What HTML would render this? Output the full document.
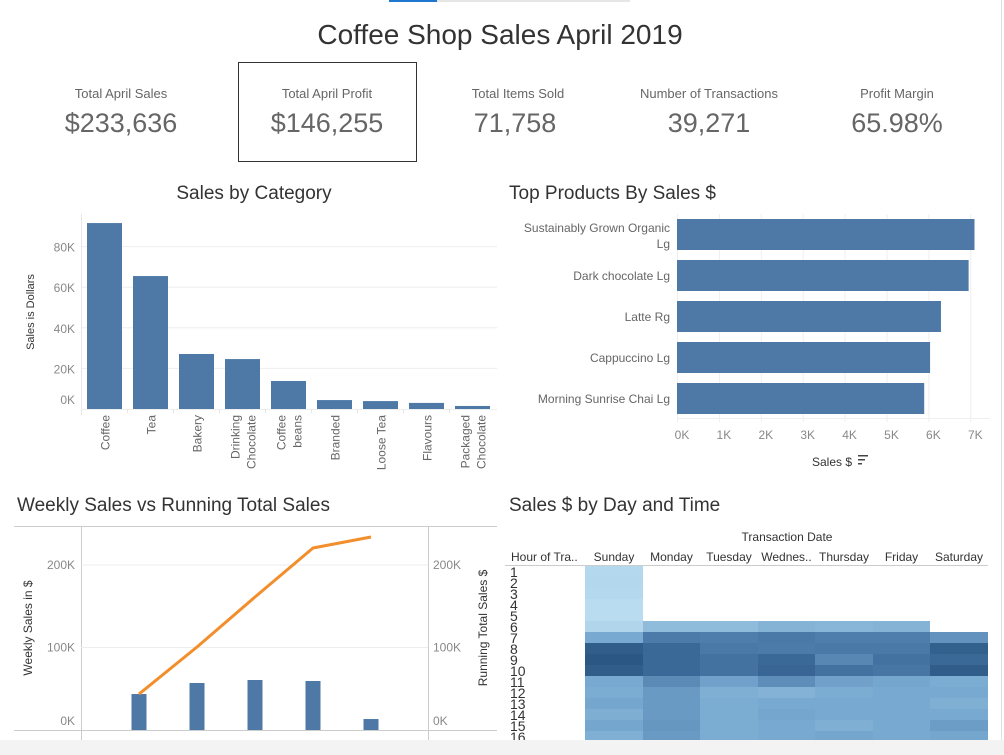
<!DOCTYPE html>
<html><head><meta charset="utf-8">
<style>
html,body{margin:0;padding:0;background:#fff;width:1004px;height:755px;overflow:hidden;font-family:"Liberation Sans",sans-serif;}
svg text{font-family:"Liberation Sans",sans-serif;}
</style></head>
<body>
<svg id="dash" width="1004" height="755" viewBox="0 0 1004 755" xmlns="http://www.w3.org/2000/svg">
  <rect x="0" y="0" width="1004" height="755" fill="#fff"/>
  <rect x="437" y="0" width="193" height="2" fill="#e6e6e6"/>
  <rect x="389" y="0" width="48" height="2" fill="#1f77d0"/>
  <line x1="1001.5" y1="0" x2="1001.5" y2="740" stroke="#e0e0e0"/>

  <text x="500" y="44" text-anchor="middle" font-size="28" fill="#333">Coffee Shop Sales April 2019</text>

  <g>
    <rect x="238.5" y="62.5" width="178" height="99" fill="none" stroke="#333"/>
    <g><text x="121" y="98" text-anchor="middle" font-size="13" fill="#666">Total April Sales</text><text x="121" y="132" text-anchor="middle" font-size="27" fill="#666">$233,636</text></g>
    <g><text x="327" y="98" text-anchor="middle" font-size="13" fill="#666">Total April Profit</text><text x="327" y="132" text-anchor="middle" font-size="27" fill="#666">$146,255</text></g>
    <g><text x="518" y="98" text-anchor="middle" font-size="13" fill="#666">Total Items Sold</text><text x="515" y="132" text-anchor="middle" font-size="27" fill="#666">71,758</text></g>
    <g><text x="709" y="98" text-anchor="middle" font-size="13" fill="#666">Number of Transactions</text><text x="709" y="132" text-anchor="middle" font-size="27" fill="#666">39,271</text></g>
    <g><text x="897" y="98" text-anchor="middle" font-size="13" fill="#666">Profit Margin</text><text x="897" y="132" text-anchor="middle" font-size="27" fill="#666">65.98%</text></g>
  </g>

  <text x="254" y="199" text-anchor="middle" font-size="19" fill="#333">Sales by Category</text>
  <g id="cat"></g>

  <text x="509" y="199" font-size="19" fill="#333">Top Products By Sales $</text>
  <g id="prod"></g>

  <text x="17" y="511" font-size="19" fill="#333">Weekly Sales vs Running Total Sales</text>
  <g id="week"></g>

  <text x="509" y="511" font-size="19" fill="#333">Sales $ by Day and Time</text>
  <g id="heat"></g>

  <rect x="0" y="740" width="1004" height="15" fill="#f3f3f3"/>
</svg>
<script>
const NS = "http://www.w3.org/2000/svg";
function mk(parent, tag, attrs, text) {
  const e = document.createElementNS(NS, tag);
  for (const k in attrs) e.setAttribute(k, attrs[k]);
  if (text !== undefined) e.textContent = text;
  parent.appendChild(e);
  return e;
}

// ---------- Sales by Category ----------
const catNames = [["Coffee"],["Tea"],["Bakery"],["Drinking","Chocolate"],["Coffee","beans"],["Branded"],["Loose Tea"],["Flavours"],["Packaged","Chocolate"]];
const catSales = [91600, 65500, 27100, 24600, 13800, 4400, 3900, 3000, 1500];
const catTicks = [0, 20000, 40000, 60000, 80000];
const catTickLabels = ["0K","20K","40K","60K","80K"];

// ---------- Top products ----------
const prodNames = [["Sustainably Grown Organic","Lg"],["Dark chocolate Lg"],["Latte Rg"],["Cappuccino Lg"],["Morning Sunrise Chai Lg"]];
const prodSales = [7100, 6960, 6300, 6040, 5900];
const prodTicks = [0,1000,2000,3000,4000,5000,6000,7000];
const prodTickLabels = ["0K","1K","2K","3K","4K","5K","6K","7K"];

// ---------- Weekly ----------
const weeks = ["W1","W2","W3","W4","W5"];
const weeklySales = [43600, 57000, 60600, 59400, 13300];
const runningTotal = [43600, 100600, 161200, 220600, 233900];
const weekTicks = [0, 100000, 200000];
const weekTickLabels = ["0K","100K","200K"];

// ---------- Heatmap ----------
const days = ["Sunday","Monday","Tuesday","Wednes..","Thursday","Friday","Saturday"];
const hours = ["1","2","3","4","5","6","7","8","9","10","11","12","13","14","15","16"];
const heatSun = [3,4,3,0,0,5,40,95,100,95,40,38,42,36,42,35];
const heatMon = [null,null,null,null,null,25,70,85,85,85,60,50,50,50,52,50];
const heatTue = [null,null,null,null,null,25,68,72,78,78,45,35,38,38,38,38];
const heatWed = [null,null,null,null,null,32,72,70,85,88,58,33,40,42,40,40];
const heatThu = [null,null,null,null,null,30,68,72,62,78,45,38,40,40,35,42];
const heatFri = [null,null,null,null,null,32,68,72,78,74,42,40,40,40,40,40];
const heatSat = [null,null,null,null,null,null,55,92,85,95,38,40,35,40,48,42];
const heatCols = [heatSun, heatMon, heatTue, heatWed, heatThu, heatFri, heatSat];

const BLUE = "#4e79a7";

// Category chart
(function(){
  const g = document.getElementById("cat");
  const x0 = 81, band = 46, bw = 35, base = 409;
  const y = v => base - v * 40.6 / 20000;
  catTicks.forEach((t,i) => {
    if (t > 0) {
      const l = mk(g,"line",{x1:x0,x2:497,y1:y(t),y2:y(t),stroke:"#eeeeee"});
      
      
    }
    const ty = t === 0 ? 404 : y(t)+5;
    const tx = mk(g,"text",{x:75,y:ty,"text-anchor":"end","font-size":12,fill:"#888"},catTickLabels[i]);
    
    
  });
  mk(g,"line",{x1:x0+0.5,x2:x0+0.5,y1:214,y2:415,stroke:"#e6e6e6"});
  mk(g,"line",{x1:x0,x2:497,y1:base+0.5,y2:base+0.5,stroke:"#eeeeee"});
  const yt = mk(g,"text",{x:34,y:312,"text-anchor":"middle","font-size":11,fill:"#333",transform:"rotate(-90 34 312)"},"Sales is Dollars");
  
  
  catSales.forEach((v,i) => {
    const bx = x0 + 6 + i*band;
    const r = mk(g,"rect",{x:bx,y:y(v),width:bw,height:base-y(v),fill:BLUE});
    
    
    if (i>0) mk(g,"line",{x1:x0+i*band+0.5,x2:x0+i*band+0.5,y1:base,y2:413,stroke:"#e6e6e6"});
    const cx = bx + bw/2;
    const lines = catNames[i];
    lines.forEach((s,j) => {
      const lx = cx + 5 + (j - (lines.length-1)/2)*16;
      const t = mk(g,"text",{x:lx,y:415,"text-anchor":"end","font-size":12,fill:"#666",transform:`rotate(-90 ${lx} 415)`},s);
      
      
    });
  });
})();

// Top products
(function(){
  const g = document.getElementById("prod");
  const x0 = 677, base = 418;
  const x = v => x0 + v * 41.9 / 1000;
  prodTicks.forEach((t,i) => {
    mk(g,"line",{x1:x(t)+0.5,x2:x(t)+0.5,y1:214,y2:422,stroke:"#eeeeee"});
    const tx = mk(g,"text",{x:x(t)+5,y:439,"text-anchor":"middle","font-size":12,fill:"#888"},prodTickLabels[i]);
    
    
  });
  mk(g,"line",{x1:x0,x2:990,y1:base+0.5,y2:base+0.5,stroke:"#eeeeee"});
  prodSales.forEach((v,i) => {
    const top = 219 + i*41;
    const r = mk(g,"rect",{x:x0,y:top,width:x(v)-x0,height:31,fill:BLUE});
    
    
    const lines = prodNames[i];
    lines.forEach((s,j) => {
      const ly = lines.length>1 ? top+13+j*16 : top+20;
      const t = mk(g,"text",{x:670,y:ly,"text-anchor":"end","font-size":12,fill:"#666"},s);
      
      
    });
  });
  const at = mk(g,"text",{x:812,y:466,"font-size":12,fill:"#333"},"Sales $");
  
  
  const si = mk(g,"g",{});
  
  
  mk(si,"rect",{x:858,y:455,width:10,height:1.5,fill:"#444"});
  mk(si,"rect",{x:858,y:459,width:7,height:1.5,fill:"#444"});
  mk(si,"rect",{x:858,y:463,width:4,height:1.5,fill:"#444"});
})();

// Weekly
(function(){
  const g = document.getElementById("week");
  const base = 730;
  const y = v => base - v * 82.5 / 100000;
  const x = i => 139 + i*58;
  mk(g,"line",{x1:14,x2:497,y1:526.5,y2:526.5,stroke:"#cccccc"});
  mk(g,"line",{x1:81.5,x2:81.5,y1:526,y2:740,stroke:"#cccccc"});
  mk(g,"line",{x1:428.5,x2:428.5,y1:526,y2:740,stroke:"#cccccc"});
  weekTicks.forEach((t,i) => {
    if (t>0) mk(g,"line",{x1:81,x2:428,y1:y(t),y2:y(t),stroke:"#eeeeee"});
    const ty = t===0 ? 725 : y(t)+4;
    const a = mk(g,"text",{x:75,y:ty,"text-anchor":"end","font-size":12,fill:"#888"},weekTickLabels[i]);
    
    
    const b = mk(g,"text",{x:433,y:ty,"font-size":12,fill:"#888"},weekTickLabels[i]);
    
    
  });
  mk(g,"line",{x1:14,x2:497,y1:base+0.5,y2:base+0.5,stroke:"#cccccc"});
  const lt = mk(g,"text",{x:32,y:628,"text-anchor":"middle","font-size":12,fill:"#333",transform:"rotate(-90 32 628)"},"Weekly Sales in $");
  
  
  const rt = mk(g,"text",{x:487,y:628,"text-anchor":"middle","font-size":12,fill:"#333",transform:"rotate(-90 487 628)"},"Running Total Sales $");
  
  
  weeklySales.forEach((v,i) => {
    const r = mk(g,"rect",{x:x(i)-7.5,y:y(v),width:15,height:base-y(v),fill:BLUE});
    
    
  });
  const pts = runningTotal.map((v,i)=>x(i)+","+y(v)).join(" ");
  const pl = mk(g,"polyline",{points:pts,fill:"none",stroke:"#f28e2b","stroke-width":3,"stroke-linejoin":"round"});
  
  
})();

// Heatmap
(function(){
  const g = document.getElementById("heat");
  const colX = [585,643,700,758,815,873,930,988];
  const top = 566, rh = 11;
  const stops = [[0,[185,220,240]],[40,[120,169,208]],[70,[76,123,170]],[100,[42,87,131]]];
  const col = v => {
    for (let k=0;k<stops.length-1;k++){
      const [a,ca]=stops[k],[b,cb]=stops[k+1];
      if (v<=b){ const t=(v-a)/(b-a); return `rgb(${ca.map((c,m)=>Math.round(c+(cb[m]-c)*t)).join(",")})`; }
    }
    return "rgb(42,87,131)";
  };
  const hd = mk(g,"text",{x:787,y:541,"text-anchor":"middle","font-size":12,fill:"#333"},"Transaction Date");
  
  
  const rh2 = mk(g,"text",{x:511,y:561,"font-size":12,fill:"#333"},"Hour of Tra..");
  
  
  days.forEach((d,i) => {
    const t = mk(g,"text",{x:(colX[i]+colX[i+1])/2,y:561,"text-anchor":"middle","font-size":12,fill:"#333"},d);
    
    
  });
  mk(g,"line",{x1:505,x2:988,y1:top-0.5,y2:top-0.5,stroke:"#cccccc"});
  heatCols.forEach((arr,i) => {
    arr.forEach((v,j) => {
      if (v===null) return;
      const r = mk(g,"rect",{x:colX[i],y:top+j*rh,width:colX[i+1]-colX[i],height:rh+0.3,fill:col(v)});
      
      
    });
  });
  hours.forEach((h,j) => {
    const t = mk(g,"text",{x:510,y:top+j*rh+11,"font-size":14,fill:"#333"},h);
    
    
  });
})();
</script>
</body></html>
